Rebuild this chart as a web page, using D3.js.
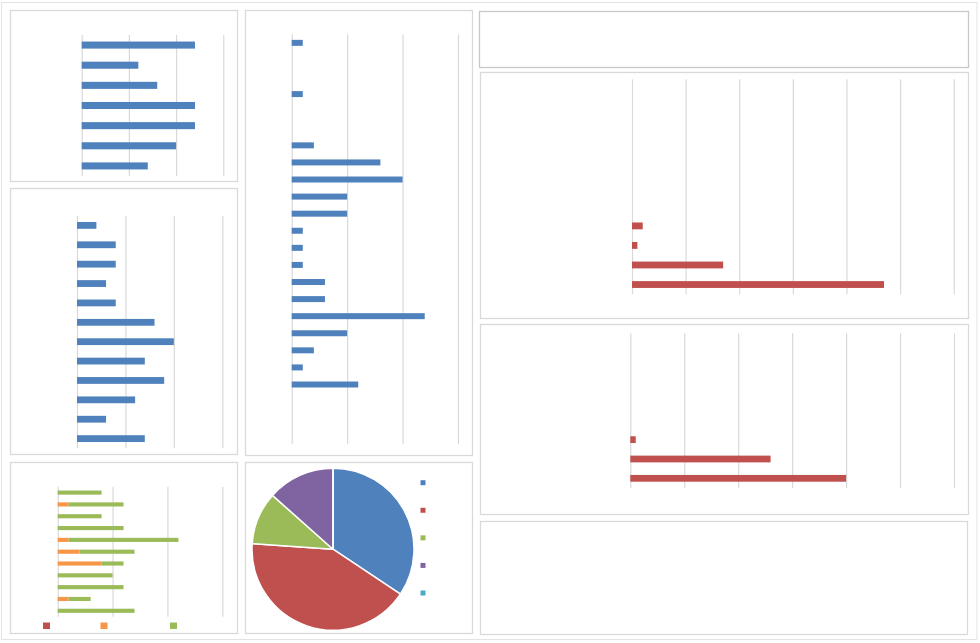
<!DOCTYPE html>
<html>
<head>
<meta charset="utf-8">
<script src="https://cdn.jsdelivr.net/npm/d3@7/dist/d3.min.js"></script>
<style>
  html,body{margin:0;padding:0;background:#fff;}
  svg{display:block;font-family:"Liberation Sans",Arial,sans-serif;}
</style>
</head>
<body>
<svg id="chart" width="980" height="643"></svg>
<script>
// ---------- DATA ----------
const chart1Categories = ["R1","R2","R3","R4","R5","R6","R7"];
const chart1Values = [12, 6, 8, 12, 12, 10, 7];
const chart1Ticks = [0, 5, 10, 15];

const chart2Categories = ["R1","R2","R3","R4","R5","R6","R7","R8","R9","R10","R11","R12"];
const chart2Values = [2, 4, 4, 3, 4, 8, 10, 7, 9, 6, 3, 7];
const chart2Ticks = [0, 5, 10, 15];

const chart3Categories = ["R1","R2","R3","R4","R5","R6","R7","R8","R9","R10","R11"];
const chart3SeriesNames = ["S1", "S2", "S3"];
const chart3Red = [0, 0, 0, 0, 0, 0, 0, 0, 0, 0, 0];
const chart3Orange = [0, 1, 0, 0, 1, 2, 4, 0, 0, 1, 0];
const chart3Green = [4, 5, 4, 6, 10, 5, 2, 5, 6, 2, 7];
const chart3Ticks = [0, 5, 10, 15];

const chart4Categories = d3.range(1, 25).map(i => "R" + i);
const chart4Values = [1, 0, 0, 1, 0, 0, 2, 8, 10, 5, 5, 1, 1, 1, 3, 3, 12, 5, 2, 1, 6, 0, 0, 0];
const chart4Ticks = [0, 5, 10, 15];

const pieCategories = ["P1", "P2", "P3", "P4", "P5"];
const pieValues = [23, 28, 7, 9, 0];

const chart6Categories = d3.range(1, 12).map(i => "R" + i);
const chart6Values = [0, 0, 0, 0, 0, 0, 0, 2, 1, 17, 47];
const chart6Ticks = [0, 10, 20, 30, 40, 50, 60];

const chart7Categories = d3.range(1, 9).map(i => "R" + i);
const chart7Values = [0, 0, 0, 0, 0, 1, 26, 40];
const chart7Ticks = [0, 10, 20, 30, 40, 50, 60];

// ---------- STYLE ----------
const BLUE = "#4F81BD", RED = "#C0504D", GREEN = "#9BBB59", PURPLE = "#8064A2", CYAN = "#4BACC6", ORANGE = "#F79646";
const GRID = "#d9d9d9", BORDER = "#d9d9d9";

const svg = d3.select("#chart");

// outer frame
svg.append("rect").attr("x", 1.5).attr("y", 2.5).attr("width", 975.5).attr("height", 637)
  .attr("fill", "none").attr("stroke", "#e3e3e3").attr("stroke-width", 1);

// panels
function panel(x0, y0, x1, y1, stroke) {
  svg.append("rect").attr("x", x0 + 0.5).attr("y", y0 + 0.5)
    .attr("width", x1 - x0).attr("height", y1 - y0)
    .attr("fill", "#fff").attr("stroke", stroke || BORDER).attr("stroke-width", 1.3);
}
panel(10, 10, 237, 181);
panel(10, 188, 237, 454);
panel(10, 462, 237, 633);
panel(245, 10, 472, 455);
panel(245, 462, 472, 633);
panel(479, 11, 968, 67, "#c8c8c8");
panel(480, 72, 968, 318);
panel(480, 324, 968, 514);
panel(480, 521, 967, 634);

// generic horizontal bar chart (stacked support)
function barChart(opts) {
  const { x0, x1, y0, y1, categories, series, colors, ticks } = opts;
  const g = svg.append("g");
  const x = d3.scaleLinear().domain([ticks[0], ticks[ticks.length - 1]]).range([x0, x1]);
  const p = 0.65;
  const y = d3.scaleBand().domain(categories).range([y0, y1]).paddingInner(p).paddingOuter(p / 2);

  // gridlines via axis
  const axis = d3.axisBottom(x).tickValues(ticks).tickSize(y1 - y0).tickFormat("");
  const ga = g.append("g").attr("transform", `translate(0,${y0})`).call(axis);
  ga.select(".domain").remove();
  ga.selectAll(".tick line").attr("stroke", GRID).attr("stroke-width", 1.2);

  // stacked bars
  const rows = categories.map((c, i) => {
    const o = { cat: c };
    series.forEach((s, j) => o["s" + j] = s[i]);
    return o;
  });
  const keys = series.map((s, j) => "s" + j);
  const stack = d3.stack().keys(keys)(rows);
  stack.forEach((layer, j) => {
    g.append("g").attr("fill", colors[j])
      .selectAll("rect").data(layer).join("rect")
      .attr("x", d => x(d[0]))
      .attr("width", d => Math.max(0, x(d[1]) - x(d[0])))
      .attr("y", d => y(d.data.cat))
      .attr("height", y.bandwidth());
  });
}

barChart({ x0: 81.7, x1: 223.3, y0: 35, y1: 176, categories: chart1Categories,
  series: [chart1Values], colors: [BLUE], ticks: chart1Ticks });

barChart({ x0: 77, x1: 222.3, y0: 215.7, y1: 448.3, categories: chart2Categories,
  series: [chart2Values], colors: [BLUE], ticks: chart2Ticks });

barChart({ x0: 57.7, x1: 222.3, y0: 486.7, y1: 616.7, categories: chart3Categories,
  series: [chart3Red, chart3Orange, chart3Green], colors: [RED, ORANGE, GREEN], ticks: chart3Ticks });

barChart({ x0: 291.7, x1: 458, y0: 34.3, y1: 444.3, categories: chart4Categories,
  series: [chart4Values], colors: [BLUE], ticks: chart4Ticks });

barChart({ x0: 632, x1: 953.7, y0: 79.3, y1: 294.3, categories: chart6Categories,
  series: [chart6Values], colors: [RED], ticks: chart6Ticks });

barChart({ x0: 630.3, x1: 954, y0: 333.3, y1: 488, categories: chart7Categories,
  series: [chart7Values], colors: [RED], ticks: chart7Ticks });

// chart3 legend
const leg3 = d3.scalePoint().domain(chart3SeriesNames).range([46.5, 173.5]);
const leg3Pos = [46.5, 104, 173.5];
svg.append("g").selectAll("rect").data(chart3SeriesNames).join("rect")
  .attr("x", (d, i) => leg3Pos[i] - 3.5).attr("y", 622.5).attr("width", 7).attr("height", 6.5)
  .attr("fill", (d, i) => [RED, ORANGE, GREEN][i]);

// pie
const pieColors = [BLUE, RED, GREEN, PURPLE, CYAN];
const pie = d3.pie().sort(null).value(d => d)(pieValues);
const arc = d3.arc().innerRadius(0).outerRadius(81);
svg.append("g").attr("transform", "translate(333,549.2)")
  .selectAll("path").data(pie).join("path")
  .attr("d", arc).attr("fill", (d, i) => pieColors[i])
  .attr("stroke", "#fff").attr("stroke-width", 1.5).attr("stroke-linejoin", "round");

// pie legend
const pieLeg = d3.scalePoint().domain(pieCategories).range([482.7, 593]);
svg.append("g").selectAll("rect").data(pieCategories).join("rect")
  .attr("x", 420.5).attr("y", d => pieLeg(d) - 2.5).attr("width", 5).attr("height", 5)
  .attr("fill", (d, i) => pieColors[i]);
</script>
</body>
</html>
